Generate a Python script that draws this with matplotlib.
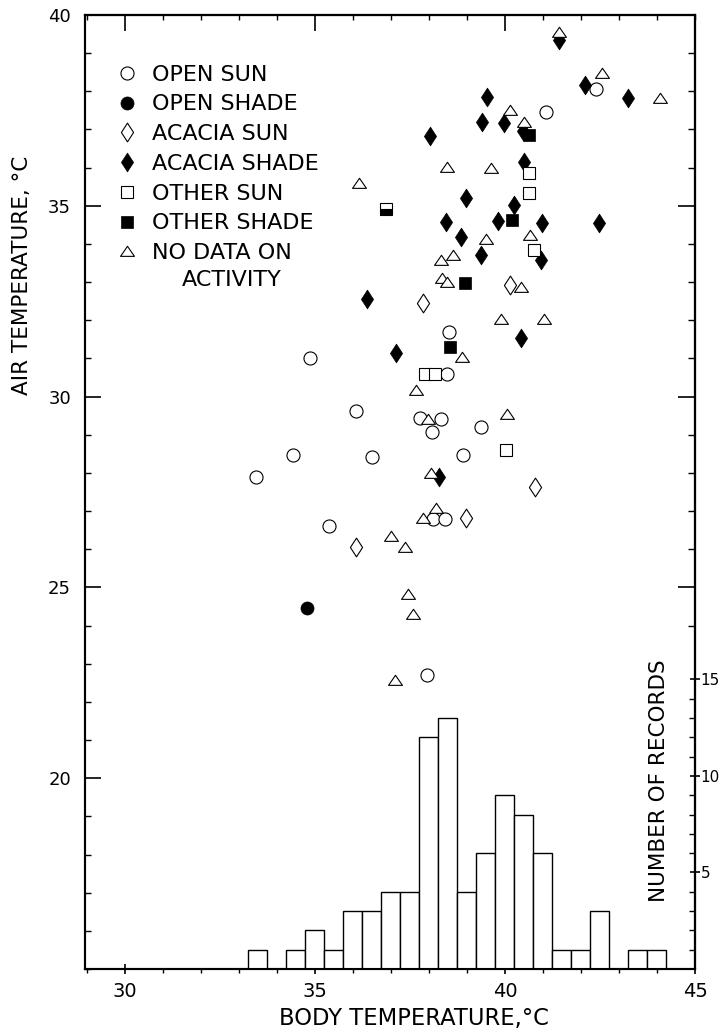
import matplotlib
matplotlib.use('Agg')
import matplotlib.pyplot as plt
from matplotlib.path import Path
from matplotlib.ticker import MultipleLocator, FixedLocator, NullFormatter

# body temperature (x) vs air temperature (y), one pair of lists per activity class
open_sun_x = [42.39, 41.08, 38.53, 34.86, 38.48, 36.09, 37.77, 38.32, 38.08, 39.37,
              34.41, 36.51, 38.90, 33.46, 38.11, 38.43, 35.38, 37.95]
open_sun_y = [38.06, 37.46, 31.68, 31.02, 30.58, 29.61, 29.45, 29.40, 29.06, 29.21,
              28.48, 28.43, 28.48, 27.88, 26.78, 26.78, 26.62, 22.70]

open_shade_x = [34.78]
open_shade_y = [24.45]

acacia_sun_x = [40.13, 37.85, 40.79, 38.98, 36.09]
acacia_sun_y = [32.93, 32.46, 27.62, 26.81, 26.07]

acacia_shade_x = [41.42, 42.10, 43.23, 39.53, 39.40, 39.97, 40.47, 38.03, 40.50, 38.98, 40.24,
                  38.45, 39.82, 40.97, 42.47, 38.85, 39.37, 40.94, 36.38, 40.42, 37.14, 38.27]
acacia_shade_y = [39.35, 38.17, 37.83, 37.85, 37.20, 37.17, 36.96, 36.83, 36.15, 35.21, 35.03,
                  34.58, 34.61, 34.55, 34.55, 34.19, 33.72, 33.59, 32.57, 31.54, 31.15, 27.88]

other_sun_x = [40.63, 40.63, 40.76, 37.90, 38.16, 40.03]
other_sun_y = [35.86, 35.34, 33.85, 30.58, 30.58, 28.59]

other_shade_x = [40.63, 40.18, 38.95, 38.56]
other_shade_y = [36.86, 34.63, 32.98, 31.31]
other_shade_part_x = [36.88]
other_shade_part_y = [34.92]

no_data_x = [41.42, 42.55, 44.07, 40.13, 40.50, 38.48, 39.63, 36.17, 39.50, 40.66, 38.32,
             38.64, 38.35, 38.48, 40.42, 39.90, 41.02, 38.87, 37.66, 40.05, 37.98, 38.06,
             38.19, 37.85, 37.01, 37.38, 37.45, 37.59, 37.11]
no_data_y = [39.55, 38.48, 37.83, 37.51, 37.20, 36.02, 35.99, 35.60, 34.14, 34.24, 33.59,
             33.72, 33.11, 33.01, 32.88, 32.04, 32.04, 31.05, 30.18, 29.55, 29.40, 28.01,
             27.07, 26.81, 26.34, 26.05, 24.84, 24.29, 22.57]

# histogram of body temperatures (half degree bins)
hist_centers = [33.5, 34.0, 34.5, 35.0, 35.5, 36.0, 36.5, 37.0, 37.5, 38.0, 38.5,
                39.0, 39.5, 40.0, 40.5, 41.0, 41.5, 42.0, 42.5, 43.0, 43.5, 44.0]
hist_counts = [1, 0, 1, 2, 1, 3, 3, 4, 4, 12, 13, 4, 6, 9, 8, 6, 1, 1, 3, 0, 1, 1]

x_ticks = [30, 35, 40, 45]
y_ticks = [20, 25, 30, 35, 40]
count_ticks = [5, 10, 15]

thin_diamond = Path([(0, 1), (0.65, 0), (0, -1), (-0.65, 0), (0, 1)],
                    [Path.MOVETO, Path.LINETO, Path.LINETO, Path.LINETO, Path.CLOSEPOLY])
flat_tri = Path([(-1, -0.7), (1, -0.7), (0, 0.75), (-1, -0.7)],
                [Path.MOVETO, Path.LINETO, Path.LINETO, Path.CLOSEPOLY])

fig = plt.figure(figsize=(7.21, 10.34), dpi=100)
ax = fig.add_axes([85 / 721, 65 / 1034, 610 / 721, 954 / 1034])
ax.set_xlim(28.95, 45)
ax.set_ylim(15, 40)

open_kw = dict(linestyle='none', markerfacecolor='white', markeredgecolor='black', markeredgewidth=0.8)
full_kw = dict(linestyle='none', color='black', markeredgewidth=0.5)
ax.plot(open_sun_x, open_sun_y, marker='o', markersize=9.4, label='OPEN SUN', **open_kw)
ax.plot(open_shade_x, open_shade_y, marker='o', markersize=9.4, label='OPEN SHADE', **full_kw)
ax.plot(acacia_sun_x, acacia_sun_y, marker=thin_diamond, markersize=13.5, label='ACACIA SUN', **open_kw)
ax.plot(acacia_shade_x, acacia_shade_y, marker=thin_diamond, markersize=13.5, label='ACACIA SHADE', **full_kw)
ax.plot(other_sun_x, other_sun_y, marker='s', markersize=8.5, label='OTHER SUN', **open_kw)
ax.plot(other_shade_x, other_shade_y, marker='s', markersize=8.5, label='OTHER SHADE', **full_kw)
ax.plot(other_shade_part_x, other_shade_part_y, marker='s', markersize=8.5, linestyle='none',
        fillstyle='bottom', markerfacecolor='black', markerfacecoloralt='white',
        markeredgecolor='black', markeredgewidth=0.8)
ax.plot(no_data_x, no_data_y, marker=flat_tri, markersize=10, label='NO DATA ON', **open_kw)

leg = ax.legend(loc='upper left', bbox_to_anchor=(0.054, 0.948), frameon=False, fontsize=16,
                handlelength=0.8, handletextpad=0.73, labelspacing=0.44, borderpad=0,
                borderaxespad=0, numpoints=1)
# second line of the last legend entry
ax.text(0.159, 0.722, 'ACTIVITY', transform=ax.transAxes, ha='left', va='center', fontsize=16)

# bottom axis (shared by scatter and histogram)
ax.xaxis.set_major_locator(FixedLocator(x_ticks))
ax.xaxis.set_minor_locator(MultipleLocator(1))
ax.tick_params(axis='x', which='major', direction='inout', length=6.5, width=1.2, labelsize=14, pad=6)
ax.tick_params(axis='x', which='minor', direction='out', length=3, width=1)
ax.yaxis.set_major_locator(FixedLocator(y_ticks))
ax.yaxis.set_minor_locator(MultipleLocator(1))
ax.tick_params(axis='y', which='major', direction='in', length=11.5, width=1.2, labelsize=13, pad=10)
ax.tick_params(axis='y', which='minor', direction='in', length=4.3, width=1)

top = ax.secondary_xaxis('top')
top.xaxis.set_major_locator(FixedLocator([30, 35, 40]))
top.xaxis.set_minor_locator(MultipleLocator(1))
top.xaxis.set_major_formatter(NullFormatter())
top.tick_params(which='major', direction='in', length=11.5, width=1.2)
top.tick_params(which='minor', direction='in', length=3.6, width=1)

right = ax.secondary_yaxis('right')
right.yaxis.set_major_locator(FixedLocator([25, 30, 35, 40]))
right.yaxis.set_minor_locator(FixedLocator(list(range(24, 40))))
right.yaxis.set_major_formatter(NullFormatter())
right.tick_params(which='major', direction='in', length=12, width=1.2)
right.tick_params(which='minor', direction='in', length=5, width=1)

ax_h = ax.twinx()
ax_h.set_ylim(0, 49.4)
ax_h.bar(hist_centers, hist_counts, width=0.5, facecolor='white', edgecolor='black', linewidth=1.0)
ax_h.yaxis.set_major_locator(FixedLocator(count_ticks))
ax_h.yaxis.set_minor_locator(FixedLocator(list(range(1, 16))))
ax_h.tick_params(axis='y', which='major', direction='inout', length=7, width=1.2, labelsize=11, pad=0.5)
ax_h.tick_params(axis='y', which='minor', direction='in', length=4.3, width=1)

for a in [ax, ax_h, top, right]:
    for s in a.spines.values():
        s.set_linewidth(1.5)

ax.text(-0.103, 0.7275, 'AIR TEMPERATURE, °C', transform=ax.transAxes, rotation=90,
        ha='center', va='center', fontsize=15.5)
ax.text(0.540, -0.0514, 'BODY TEMPERATURE,°C', transform=ax.transAxes,
        ha='center', va='center', fontsize=16.3)
ax_h.text(0.941, 0.197, 'NUMBER OF RECORDS', transform=ax_h.transAxes, rotation=90,
          ha='center', va='center', fontsize=15.5)

fig.savefig('out.png', dpi=100)
